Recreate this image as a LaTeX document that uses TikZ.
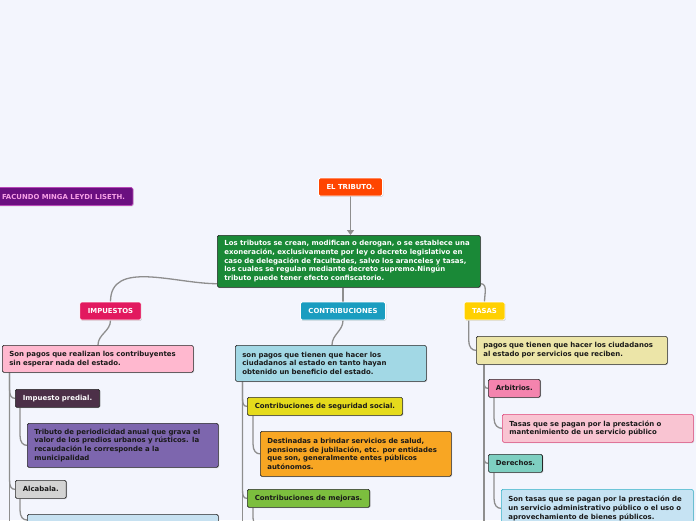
\documentclass[tikz,border=0pt]{standalone}
\usepackage{fontspec}
\setmainfont{DejaVu Sans}
\usetikzlibrary{shadows,arrows.meta,backgrounds,calc}
\definecolor{bgc}{HTML}{F3F5FD}
\definecolor{linkc}{HTML}{8E8E8E}
\definecolor{cFac}{HTML}{6A0F80}
\definecolor{cFacB}{HTML}{B848B8}
\definecolor{cFacT}{HTML}{F7A0E6}
\definecolor{cTrib}{HTML}{FF4500}
\definecolor{cGreen}{HTML}{1A8937}
\definecolor{cImp}{HTML}{E2195F}
\definecolor{cCon}{HTML}{1A9DC0}
\definecolor{cTas}{HTML}{FFD000}
\definecolor{cPink}{HTML}{FFB8CF}
\definecolor{cPred}{HTML}{4C3048}
\definecolor{cTrb}{HTML}{7D66AE}
\definecolor{cAlc}{HTML}{D3D3D3}
\definecolor{cLb}{HTML}{C6E1F1}
\definecolor{cCbox}{HTML}{A2D8E5}
\definecolor{cSeg}{HTML}{E5DB1C}
\definecolor{cDest}{HTML}{F8A623}
\definecolor{cMej}{HTML}{7CBE3E}
\definecolor{cTd}{HTML}{ECE5A8}
\definecolor{cArb}{HTML}{F484AE}
\definecolor{cTq}{HTML}{F9C4D2}
\definecolor{cTqB}{HTML}{E0467A}
\definecolor{cDer}{HTML}{7ECFC1}
\definecolor{cSt}{HTML}{C6E3F3}
\definecolor{cStB}{HTML}{36B3C9}
\tikzset{
 shad/.style={drop shadow={shadow xshift=0.8pt,shadow yshift=-0.8pt,opacity=0.3}},
 tbox/.style={draw=black!85,line width=0.7pt,rounded corners=1.5pt,anchor=north west,align=left,inner xsep=7pt,inner ysep=2pt,text=black!90,shad},
 sbox/.style={tbox,minimum height=18pt,inner ysep=0pt,inner xsep=7.5pt},
 hbox/.style={draw=white,line width=0.8pt,rounded corners=1.5pt,text=white,minimum height=18pt,inner xsep=8pt,inner ysep=0pt,font=\fontsize{6.9}{8}\selectfont\bfseries,shad},
 link/.style={draw=linkc,line width=1.3pt},
 branch/.style={link,to path={let \p1=(\tikztostart),\p2=(\tikztotarget) in -- (\x1,\y2+10pt) .. controls (\x1,\y2+3pt) and (\x2-4pt,\y2) .. (\tikztotarget)}},
}
\begin{document}
\begin{tikzpicture}[x=1pt,y=-1pt,font=\fontsize{6.95}{8.7}\selectfont\bfseries]
\useasboundingbox (0,0) rectangle (696,520);
% top level
\node[hbox,fill=cFac,draw=cFacB,text=cFacT] (fac) at (63.5,196.5) {FACUNDO MINGA LEYDI LISETH.};
\node[hbox,fill=cTrib] (trib) at (350.5,187) {EL TRIBUTO.};
\node[tbox,fill=cGreen,text=white,text width=249pt,minimum height=52pt] (green) at (217,235) {Los tributos se crean, modifican o derogan, o se establece una\\exoneración, exclusivamente por ley o decreto legislativo en\\caso de delegación de facultades, salvo los aranceles y tasas,\\los cuales se regulan mediante decreto supremo.Ningún\\tributo puede tener efecto confiscatorio.};
\node[hbox,fill=cImp] (imp) at (110.5,311) {IMPUESTOS};
\node[hbox,fill=cCon] (con) at (343,311) {CONTRIBUCIONES};
\node[hbox,fill=cTas] (tas) at (484.5,311) {TASAS};
% impuestos
\node[tbox,fill=cPink,text width=177pt,minimum height=27pt] (ipd) at (2,345) {Son pagos que realizan los contribuyentes\\sin esperar nada del estado.};
\node[sbox,fill=cPred,text=white] (pred) at (15,389) {Impuesto predial.};
\node[tbox,fill=cTrb,text width=177pt,minimum height=44pt] (trb) at (27,423) {Tributo de periodicidad anual que grava el\\valor de los predios urbanos y rústicos. la\\recaudación le corresponde a la\\municipalidad};
\node[sbox,fill=cAlc] (alc) at (15,480) {Alcabala.};
\node[tbox,fill=cLb,text width=177pt,minimum height=36pt] (alcd) at (27,514) {};
\coordinate (iEnd) at (9.5,540);
% contribuciones
\node[tbox,fill=cCbox,text width=177pt,minimum height=36pt] (cd) at (235,345) {son pagos que tienen que hacer los\\ciudadanos al estado en tanto hayan\\obtenido un beneficio del estado.};
\node[sbox,fill=cSeg] (seg) at (247,397) {Contribuciones de seguridad social.};
\node[tbox,fill=cDest,text width=177pt,minimum height=45pt] (dest) at (260,431) {Destinadas a brindar servicios de salud,\\pensiones de jubilación, etc. por entidades\\que son, generalmente entes públicos\\autónomos.};
\node[sbox,fill=cMej] (mej) at (247,489) {Contribuciones de mejoras.};
\coordinate (mejc) at (262,528);
\coordinate (cEnd) at (242.5,540);
% tasas
\node[tbox,fill=cTd,text width=177pt,minimum height=28pt] (td) at (476,336) {pagos que tienen que hacer los ciudadanos\\al estado por servicios que reciben.};
\node[sbox,fill=cArb] (arb) at (488,379) {Arbitrios.};
\node[tbox,fill=cTq,draw=cTqB,text width=177pt,minimum height=28pt] (tq) at (502,414) {Tasas que se pagan por la prestación o\\mantenimiento de un servicio público};
\node[sbox,fill=cDer] (der) at (488,454) {Derechos.};
\node[tbox,fill=cSt,draw=cStB,text width=178pt,minimum height=38pt] (st) at (501,489) {Son tasas que se pagan por la prestación de\\un servicio administrativo público o el uso o\\aprovechamiento de bienes públicos.};
\coordinate (tEnd) at (484,540);
\begin{scope}[on background layer]
\fill[bgc] (0,0) rectangle (696,520);
\draw[link,-{Triangle[length=5pt,width=7pt]}] (trib.south) -- (trib.south |- green.north);
\draw[link] ([yshift=4pt]green.south west) to[out=180,in=90] (imp.north);
\draw[link] (con.north |- green.south) -- (con.north);
\draw[link] ([yshift=4pt]green.south east) to[out=0,in=90] (tas.north);
\draw[link] (imp.south) to[out=-90,in=90] ([xshift=96pt]ipd.north west);
\draw[link] (con.south) to[out=-90,in=90] ([xshift=97pt]cd.north west);
\draw[branch] ([xshift=5pt]tas.south west) to (td.west);
% impuestos tree
\draw[branch] ([xshift=7.5pt]ipd.south west) to (pred.west);
\draw[branch] ([xshift=7.5pt]ipd.south west) to (alc.west);
\draw[link] ([xshift=7.5pt]ipd.south west) -- (iEnd);
\draw[branch] ([xshift=5pt]pred.south west) to (trb.west);
\draw[branch] ([xshift=5pt]alc.south west) to ([yshift=-6pt]alcd.north west);
% contribuciones tree
\draw[branch] ([xshift=7.5pt]cd.south west) to (seg.west);
\draw[branch] ([xshift=7.5pt]cd.south west) to (mej.west);
\draw[link] ([xshift=7.5pt]cd.south west) -- (cEnd);
\draw[branch] ([xshift=6pt]seg.south west) to (dest.west);
\draw[branch] ([xshift=6pt]mej.south west) to (mejc);
% tasas tree
\draw[branch] ([xshift=8pt]td.south west) to (arb.west);
\draw[branch] ([xshift=8pt]td.south west) to (der.west);
\draw[link] ([xshift=8pt]td.south west) -- (tEnd);
\draw[branch] ([xshift=6pt]arb.south west) to (tq.west);
\draw[branch] ([xshift=6pt]der.south west) to (st.west);
\end{scope}
\end{tikzpicture}
\end{document}
